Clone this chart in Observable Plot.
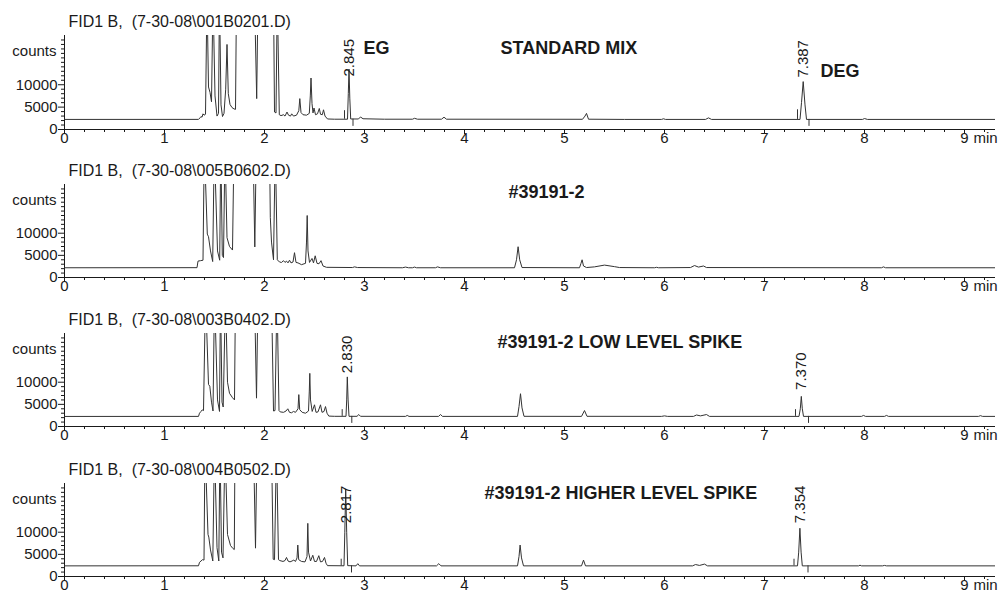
<!DOCTYPE html>
<html>
<head>
<meta charset="utf-8">
<script src="https://cdn.jsdelivr.net/npm/d3@7"></script>
<script src="https://cdn.jsdelivr.net/npm/@observablehq/plot@0.6"></script>
<style>
  body { margin: 0; background: white; }
  #chart { width: 998px; }
</style>
</head>
<body>
<div id="chart"></div>
<script>
// ---------- axis ticks ----------
const xMajor = [0, 1, 2, 3, 4, 5, 6, 7, 8, 9];
const xMinor = [0.2,0.4,0.6,0.8,1.2,1.4,1.6,1.8,2.2,2.4,2.6,2.8,3.2,3.4,3.6,3.8,4.2,4.4,4.6,4.8,5.2,5.4,5.6,5.8,6.2,6.4,6.6,6.8,7.2,7.4,7.6,7.8,8.2,8.4,8.6,8.8,9.2];
const yMajor = [0, 5000, 10000];
const yMinor = [1000,2000,3000,4000,6000,7000,8000,9000,11000,12000,13000,14000,15000,16000,17000,18000,19000,20000];

// ---------- panel titles ----------
const fileNames = [
  "FID1 B,  (7-30-08\\001B0201.D)",
  "FID1 B,  (7-30-08\\005B0602.D)",
  "FID1 B,  (7-30-08\\003B0402.D)",
  "FID1 B,  (7-30-08\\004B0502.D)"
];

// ---------- traces: [time (min), counts] ----------
const stdMix = [
[0,2250],[1.34,2260],[1.355,2600],[1.365,2900],[1.375,2750],[1.385,3500],[1.395,3200],[1.41,3400],
[1.425,30000],[1.44,9500],[1.455,8300],[1.47,6200],[1.485,30000],[1.505,7500],[1.525,3000],[1.54,3600],[1.55,30000],[1.565,5500],[1.58,2900],[1.595,3600],[1.612,9000],[1.625,19000],[1.638,8000],[1.655,5600],[1.675,4900],[1.695,4600],[1.71,4500],[1.72,30000],
[1.9,30000],[1.922,6900],[1.935,30000],
[2.09,30000],[2.1,3900],[2.115,3700],[2.128,30000],[2.148,3300],[2.165,3100],[2.19,3300],[2.205,3000],[2.225,3900],[2.24,3200],[2.26,3000],[2.272,3500],[2.29,3000],[2.32,3200],[2.343,4200],[2.353,6900],[2.365,3800],[2.385,3300],[2.42,3200],[2.448,3600],[2.458,7500],[2.465,11500],[2.475,5800],[2.485,3700],[2.495,4800],[2.51,3300],[2.53,3500],[2.548,4700],[2.56,3400],[2.578,3300],[2.59,4400],[2.605,3000],[2.63,2350],[2.7,2300],
[2.83,2300],[2.838,8000],[2.845,13500],[2.853,7000],[2.862,2350],
[2.94,2350],[2.96,2800],[2.985,2400],[3.2,2300],[3.48,2300],[3.5,2500],[3.53,2300],[3.77,2300],[3.795,2750],[3.82,2300],[5.18,2280],[5.205,3000],[5.22,3600],[5.24,2300],[5.6,2250],[5.97,2250],[5.99,2400],[6.01,2250],[6.41,2250],[6.44,2600],[6.47,2250],
[7.355,2250],[7.37,6000],[7.387,10700],[7.405,5500],[7.42,2250],[7.98,2250],[8.0,2450],[8.03,2250],[9.31,2250]
];
const sample = [
[0,2200],[1.325,2220],[1.335,3700],[1.36,3800],[1.385,3900],[1.398,30000],[1.428,9800],[1.44,9200],[1.46,6000],[1.482,3600],[1.498,30000],[1.53,6000],[1.552,3900],[1.563,30000],[1.578,5000],[1.59,4500],[1.605,30000],[1.625,9000],[1.65,7000],[1.68,6200],[1.695,30000],
[1.885,30000],[1.903,6900],[1.918,30000],
[2.05,30000],[2.058,13600],[2.07,8000],[2.09,4000],[2.108,30000],[2.128,4000],[2.15,3500],[2.17,3400],[2.19,3800],[2.205,3400],[2.22,3700],[2.235,3300],[2.25,3900],[2.265,3300],[2.285,3500],[2.3,5600],[2.315,3400],[2.335,3300],[2.37,2900],[2.41,3200],[2.42,8000],[2.427,14000],[2.435,6000],[2.45,3400],[2.475,4300],[2.49,3300],[2.507,4900],[2.525,3200],[2.545,3100],[2.565,3800],[2.585,2600],[2.62,2300],
[2.88,2250],[2.9,2400],[2.93,2250],[3.38,2200],[3.41,2350],[3.44,2200],[3.48,2200],[3.5,2350],[3.52,2200],[3.71,2200],[3.73,2400],[3.76,2200],
[4.5,2200],[4.52,4000],[4.536,6950],[4.552,4000],[4.575,2250],[5.15,2200],[5.165,3200],[5.176,4000],[5.19,2600],[5.22,2250],[5.3,2400],[5.4,2800],[5.5,2450],[5.55,2250],[5.9,2200],[5.92,2300],[5.94,2200],[6.26,2250],[6.3,2700],[6.34,2350],[6.39,2600],[6.42,2250],[8.17,2200],[8.19,2400],[8.21,2200],[9.31,2200]
];
const lowSpike = [
[0,2270],[1.34,2280],[1.35,3000],[1.365,3400],[1.377,3750],[1.39,3600],[1.41,30000],[1.44,9500],[1.453,9100],[1.47,5500],[1.485,3500],[1.5,30000],[1.53,6000],[1.55,3400],[1.56,30000],[1.575,5500],[1.587,4400],[1.61,30000],[1.63,10000],[1.65,7500],[1.68,6500],[1.7,6000],[1.71,30000],
[1.9,30000],[1.92,6400],[1.935,30000],
[2.07,30000],[2.09,3500],[2.105,3600],[2.125,30000],[2.145,3600],[2.157,3300],[2.19,3200],[2.215,3500],[2.233,4000],[2.25,3200],[2.27,3100],[2.29,3400],[2.31,3200],[2.335,4000],[2.343,7200],[2.352,3800],[2.377,3200],[2.41,3000],[2.44,3500],[2.448,8000],[2.453,12000],[2.46,6000],[2.477,3400],[2.5,4900],[2.515,3200],[2.535,3300],[2.56,4900],[2.575,3200],[2.595,3400],[2.61,4500],[2.625,3000],[2.643,2350],[2.7,2300],
[2.815,2300],[2.822,6000],[2.828,11200],[2.836,6000],[2.845,2300],
[2.925,2300],[2.943,2700],[2.96,2300],[3.41,2280],[3.427,2500],[3.445,2280],[3.74,2280],[3.76,2700],[3.78,2280],
[4.53,2280],[4.545,4500],[4.56,7400],[4.575,4200],[4.595,2300],[5.17,2280],[5.2,3600],[5.225,2300],[5.97,2280],[6.0,2400],[6.03,2280],[6.29,2280],[6.32,2600],[6.36,2400],[6.42,2700],[6.45,2280],
[7.345,2280],[7.358,4000],[7.368,6800],[7.378,4000],[7.39,2280],[7.97,2280],[7.99,2500],[8.01,2280],[8.2,2280],[8.22,2500],[8.24,2280],[9.14,2280],[9.16,2450],[9.18,2280],[9.31,2280]
];
const highSpike = [
[0,2400],[1.34,2420],[1.35,3200],[1.365,3500],[1.38,3800],[1.395,3700],[1.405,30000],[1.435,9500],[1.443,8900],[1.46,6000],[1.483,3500],[1.5,30000],[1.525,6500],[1.543,3500],[1.555,30000],[1.57,5500],[1.585,4200],[1.605,30000],[1.63,9500],[1.66,7000],[1.685,6300],[1.698,6100],[1.705,30000],
[1.89,30000],[1.91,6400],[1.925,30000],
[2.07,30000],[2.087,3900],[2.1,3800],[2.12,30000],[2.14,3800],[2.153,3600],[2.185,3400],[2.205,3600],[2.22,4300],[2.235,3500],[2.255,3300],[2.275,3500],[2.293,3700],[2.31,3400],[2.325,4200],[2.333,7100],[2.342,3800],[2.37,3400],[2.405,3300],[2.425,4500],[2.433,12000],[2.44,5500],[2.46,3500],[2.483,4800],[2.5,3400],[2.52,3400],[2.543,4700],[2.56,3300],[2.58,3400],[2.6,4300],[2.615,3000],[2.63,2450],
[2.795,2420],[2.803,10000],[2.812,19800],[2.822,10000],[2.832,2450],
[2.915,2400],[2.933,2900],[2.95,2400],[3.72,2400],[3.743,2900],[3.765,2400],
[4.53,2400],[4.545,4500],[4.556,7100],[4.57,4200],[4.59,2400],[5.17,2400],[5.19,3700],[5.21,2400],[6.28,2400],[6.31,2700],[6.35,2500],[6.4,2800],[6.43,2400],
[7.33,2400],[7.342,5500],[7.354,10900],[7.366,5500],[7.378,2400],[7.94,2400],[7.955,2550],[7.97,2400],[8.18,2400],[8.2,2500],[8.22,2400],[9.31,2400]
];

// ---------- integration event markers: [time, from counts, to counts] ----------
const stdMixEvents = [[2.80,2300,4200],[2.885,2300,700],[7.33,2250,4400],[7.445,2250,700]];
const sampleEvents = [];
const lowSpikeEvents = [[2.777,2280,3800],[2.873,2280,700],[7.31,2280,3800],[7.44,2280,700]];
const highSpikeEvents = [[2.767,2400,3900],[2.87,2400,800],[7.295,2400,3900],[7.435,2400,800]];

// ---------- retention-time labels ----------
const stdMixRT = ["2.845", "7.387"];
const stdMixRTy = [11830, 11600];
const sampleRT = [];
const sampleRTy = [];
const lowSpikeRT = ["2.830", "7.370"];
const lowSpikeRTy = [12050, 8260];
const highSpikeRT = ["2.817", "7.354"];
const highSpikeRTy = [12050, 12050];

// ---------- bold annotations: [text, time, counts] ----------
const stdMixNotes = [["EG", 2.99, 18200], ["STANDARD MIX", 4.36, 18200], ["DEG", 7.56, 12950]];
const sampleNotes = [["#39191-2", 4.44, 19300]];
const lowSpikeNotes = [["#39191-2 LOW LEVEL SPIKE", 4.33, 19000]];
const highSpikeNotes = [["#39191-2 HIGHER LEVEL SPIKE", 4.2, 18800]];

const panels = [
  {title: fileNames[0], trace: stdMix, events: stdMixEvents, rt: stdMixRT, rty: stdMixRTy, notes: stdMixNotes, height: 150, mt: 35, mb: 21},
  {title: fileNames[1], trace: sample, events: sampleEvents, rt: sampleRT, rty: sampleRTy, notes: sampleNotes, height: 148, mt: 34, mb: 21},
  {title: fileNames[2], trace: lowSpike, events: lowSpikeEvents, rt: lowSpikeRT, rty: lowSpikeRTy, notes: lowSpikeNotes, height: 149, mt: 35, mb: 21},
  {title: fileNames[3], trace: highSpike, events: highSpikeEvents, rt: highSpikeRT, rty: highSpikeRTy, notes: highSpikeNotes, height: 153, mt: 36, mb: 24}
];

const font = "'Liberation Sans', Arial, Helvetica, sans-serif";
const ink = "#1a1a1a";
const chart = document.getElementById("chart");

for (const p of panels) {
  const svg = Plot.plot({
    width: 998,
    height: p.height,
    marginLeft: 64,
    marginRight: 3,
    marginTop: p.mt,
    marginBottom: p.mb,
    style: {fontFamily: font, fontSize: "15px", color: ink, background: "white", overflow: "hidden"},
    x: {domain: [0, 9.31], label: null},
    y: {domain: [0, 21000], label: null},
    marks: [
      Plot.axisY({ticks: yMinor, tickSize: 3, tickFormat: () => "", label: null}),
      Plot.axisY({ticks: yMajor, tickSize: 6, tickPadding: 1, tickFormat: d => String(d), label: null, fontSize: 15}),
      Plot.axisX({ticks: xMinor, tickSize: 3, tickFormat: () => "", label: null}),
      Plot.axisX({ticks: xMajor, tickSize: 5, tickPadding: -2, tickFormat: d => String(d), label: null, fontSize: 15}),
      Plot.ruleX([0], {stroke: ink}),
      Plot.ruleY([0], {stroke: ink}),
      Plot.line(p.trace, {stroke: "#333", strokeWidth: 1, clip: true}),
      Plot.ruleX(p.events, {x: d => d[0], y1: d => d[1], y2: d => d[2], stroke: "#333", strokeWidth: 1}),
      Plot.text(p.rt, {x: d => +d, y: (d, i) => p.rty[i], text: d => d, rotate: -90, textAnchor: "start", fontSize: 15, fill: ink}),
      Plot.text(p.notes, {x: d => d[1], y: d => d[2], text: d => d[0], textAnchor: "start", fontSize: 18, fontWeight: "bold", fill: ink}),
      Plot.text(["counts"], {frameAnchor: "top-left", textAnchor: "end", dx: -8, dy: 10, fontSize: 15, fill: ink}),
      Plot.text([p.title], {frameAnchor: "top-left", textAnchor: "start", dx: 4, dy: -20, fontSize: 16, fill: ink}),
      Plot.text(["min"], {x: [xMajor[xMajor.length - 1]], frameAnchor: "bottom", lineAnchor: "top", dx: 9, dy: 3, textAnchor: "start", fontSize: 15, fill: ink})
    ]
  });
  chart.appendChild(svg);
}
</script>
</body>
</html>
